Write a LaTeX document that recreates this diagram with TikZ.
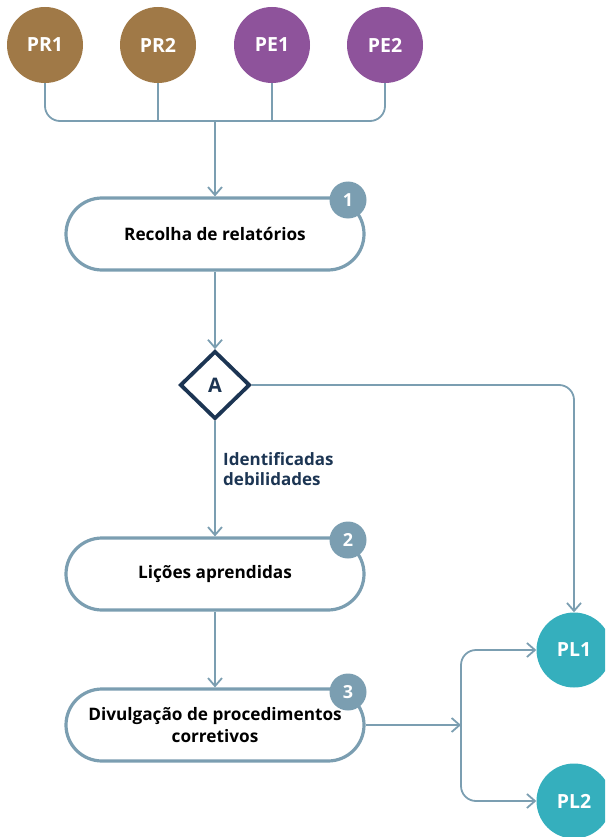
\documentclass[tikz,border=0pt]{standalone}
\usepackage{fontspec}
\setmainfont{Open Sans}
\usetikzlibrary{arrows.meta,shapes.geometric}
\definecolor{brownc}{HTML}{A07947}
\definecolor{purplec}{HTML}{8E539B}
\definecolor{tealc}{HTML}{35AFBD}
\definecolor{steel}{HTML}{7B9EB1}
\definecolor{navy}{HTML}{1C3553}
\tikzset{
  circ/.style={circle, minimum size=76pt, inner sep=0pt, text=white, font=\bfseries\fontsize{19.5}{22}\selectfont},
  stepbox/.style={draw=steel, line width=3.2pt, fill=white, rounded corners=36pt, minimum width=298pt, minimum height=72pt, inner sep=0pt, align=center, font=\bfseries\fontsize{17.2}{22}\selectfont},
  badge/.style={circle, fill=steel, minimum size=37pt, inner sep=0pt, text=white, font=\bfseries\fontsize{18}{20}\selectfont},
  conn/.style={draw=steel, line width=1.8pt},
  arr/.style={conn, -{Straight Barb[length=8pt,width=14pt,line width=1.8pt]}},
  dec/.style={diamond, draw=navy, line width=3.8pt, fill=white, minimum width=70pt, minimum height=68pt, inner sep=0pt, text=navy, font=\bfseries\fontsize{20}{22}\selectfont},
  lbltext/.style={anchor=west, align=left, text=navy, inner sep=0pt, font=\bfseries\fontsize{17}{20.5}\selectfont},
}
\begin{document}
\begin{tikzpicture}[x=1pt,y=-1pt]
\useasboundingbox (0,0) rectangle (605,837);
\clip (0,0) rectangle (605,837);
% top circles
\node[circ, fill=brownc] (pr1) at (45,45) {PR1};
\node[circ, fill=brownc] (pr2) at (158,45) {PR2};
\node[circ, fill=purplec] (pe1) at (272,45) {PE1};
\node[circ, fill=purplec] (pe2) at (385,45) {PE2};
\coordinate (bus) at (215,121);
% boxes
\node[stepbox] (b1) at (215,234) {Recolha de relatórios};
\node[dec] (dA) at (215,385) {A};
\node[stepbox] (b2) at (215,574) {Lições aprendidas};
\node[stepbox] (b3) at (215,725) {Divulgação de procedimentos\\corretivos};
% badges
\node[badge] (n1) at (348,200) {1};
\node[badge] (n2) at (348,540) {2};
\node[badge] (n3) at (348,692) {3};
% right circles
\node[circ, fill=tealc, minimum size=75pt] (pl1) at (574,650) {PL1};
\node[circ, fill=tealc, minimum size=75pt] (pl2) at (574,801) {PL2};
\coordinate (split) at (461,725);
% label
\node[lbltext] (lbl) at (223,469) {Identificadas\\debilidades};
% connectors
\draw[conn, rounded corners=15pt] (pr1.south) |- (bus) -| (pe2.south);
\draw[conn] (pr2.south) -- (pr2.south |- bus);
\draw[conn] (pe1.south) -- (pe1.south |- bus);
\draw[arr] (bus) -- (b1.north);
\draw[arr] (b1.south) -- (dA.north);
\draw[arr, rounded corners=15pt] (dA.east) -| (pl1.north);
\draw[arr] (dA.south) -- (b2.north);
\draw[arr] (b2.south) -- (b3.north);
\draw[arr] (b3.east) -- (split);
\draw[arr, rounded corners=15pt] (split) |- (pl1.west);
\draw[arr, rounded corners=15pt] (split) |- (pl2.west);
\end{tikzpicture}
\end{document}
